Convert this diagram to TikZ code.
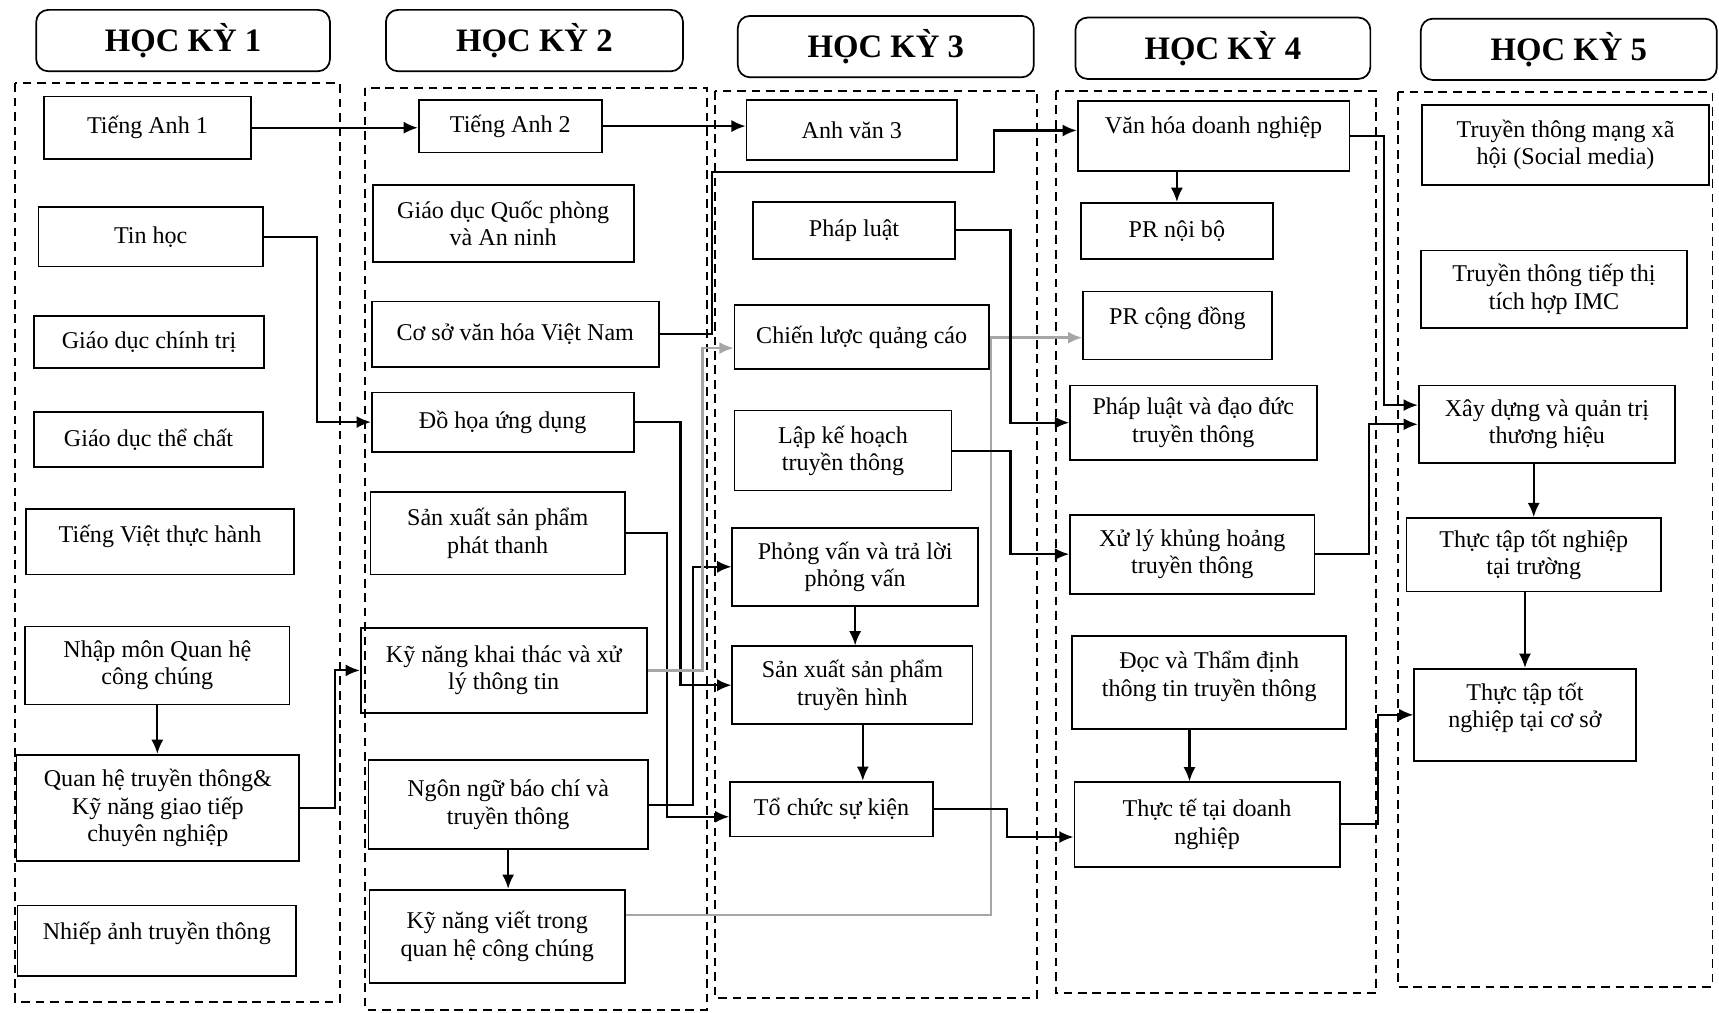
\documentclass[tikz,border=0pt]{standalone}
\usepackage{fontspec}
\setmainfont{Liberation Serif}
\usetikzlibrary{arrows.meta}

\begin{document}
\begin{tikzpicture}[
	x=0.02cm, y=-0.02cm,
	% --- Styles ---
	semblock/.style={
		rectangle, draw, rounded corners=0.22cm, line width=0.9pt,
		minimum width=5.4cm, minimum height=1.12cm, font=\fontsize{17}{20}\selectfont\bfseries
	},
	colframe/.style={
		draw, line width=0.9pt, dash pattern=on 4.5pt off 3pt
	},
	subjblock/.style={
		rectangle, draw, line width=0.9pt, align=center, inner sep=2pt,
		font=\fontsize{12.5}{14.2}\selectfont
	},
	sz/.style 2 args={minimum width=#1cm, minimum height=#2cm},
	raisetxt/.style={text depth=#1},
	line/.style={
		draw, line width=1.1pt, -{Latex[length=2.6mm,width=2.2mm]}
	},
	grayline/.style={
		draw, line width=1.3pt, color=gray!70, -{Latex[length=2.6mm,width=2.2mm]}
	}
	]

	\useasboundingbox (0,0) rectangle (1568,924);

	% --- 1. Semester headers ---
	\node[semblock, minimum width=5.36cm] (hk1) at (167,37) {HỌC KỲ 1};
	\node[semblock, minimum width=5.42cm] (hk2) at (487.5,37) {HỌC KỲ 2};
	\node[semblock] (hk3) at (808,42.5) {HỌC KỲ 3};
	\node[semblock, minimum width=5.38cm] (hk4) at (1115.5,44) {HỌC KỲ 4};
	\node[semblock] (hk5) at (1431,45) {HỌC KỲ 5};

	% --- 2. Dashed frames of the semesters ---
	\draw[colframe] (14,76) rectangle (310,914);
	\draw[colframe] (333,80) rectangle (645,921);
	\draw[colframe] (652,83) rectangle (946,910);
	\draw[colframe] (963,83) rectangle (1255,906);
	\draw[colframe] (1275,84) rectangle (1562,900);

	% --- 3. Semester 1 ---
	\node[subjblock, sz={3.78}{1.14}] (ta1) at (134.5,116.5) {Tiếng Anh 1};
	\node[subjblock, sz={4.1}{1.08}] (tinhoc) at (137.5,216) {Tin học};
	\node[subjblock, sz={4.2}{0.94}] (gdct) at (136,312) {Giáo dục chính trị};
	\node[subjblock, sz={4.18}{1.0}] (gdtc) at (135.5,401) {Giáo dục thể chất};
	\node[subjblock, sz={4.88}{1.2}, raisetxt=0.3cm] (tvth) at (146,494) {Tiếng Việt thực hành};
	\node[subjblock, sz={4.82}{1.42}] (nhapmon) at (143.5,607) {Nhập môn Quan hệ\\công chúng};
	\node[subjblock, sz={5.16}{1.94}] (qhtt) at (144,737) {Quan hệ truyền thông\&\\Kỹ năng giao tiếp\\chuyên nghiệp};
	\node[subjblock, sz={5.08}{1.28}, raisetxt=0.35cm] (nhiepanh) at (143,858) {Nhiếp ảnh truyền thông};

	% --- 4. Semester 2 ---
	\node[subjblock, sz={3.34}{0.96}] (ta2) at (465.5,115) {Tiếng Anh 2};
	\node[subjblock, sz={4.76}{1.4}] (gdqp) at (459,204) {Giáo dục Quốc phòng\\và An ninh};
	\node[subjblock, sz={5.24}{1.2}] (csvh) at (470,305) {Cơ sở văn hóa Việt Nam};
	\node[subjblock, sz={4.78}{1.08}] (dohoa) at (458.5,385) {Đồ họa ứng dụng};
	\node[subjblock, sz={4.64}{1.5}] (sxpt) at (454,486.5) {Sản xuất sản phẩm\\phát thanh};
	\node[subjblock, sz={5.22}{1.56}] (kntt) at (459.5,611.5) {Kỹ năng khai thác và xử\\lý thông tin};
	\node[subjblock, sz={5.1}{1.62}] (nnbc) at (463.5,734) {Ngôn ngữ báo chí và\\truyền thông};
	\node[subjblock, sz={4.66}{1.7}] (knv) at (453.5,854) {Kỹ năng viết trong\\quan hệ công chúng};

	% --- 5. Semester 3 ---
	\node[subjblock, sz={3.84}{1.1}] (av3) at (777,118.5) {Anh văn 3};
	\node[subjblock, sz={3.68}{1.04}] (phapluat) at (779,210) {Pháp luật};
	\node[subjblock, sz={4.64}{1.16}] (clqc) at (786,307.5) {Chiến lược quảng cáo};
	\node[subjblock, sz={3.96}{1.46}] (lkh) at (769,411) {Lập kế hoạch\\truyền thông};
	\node[subjblock, sz={4.48}{1.42}] (pv) at (780,517) {Phỏng vấn và trả lời\\phỏng vấn};
	\node[subjblock, sz={4.38}{1.42}] (sxth) at (777.5,625) {Sản xuất sản phẩm\\truyền hình};
	\node[subjblock, sz={3.7}{1.0}] (tcsk) at (758.5,738) {Tổ chức sự kiện};

	% --- 6. Semester 4 ---
	\node[subjblock, sz={4.96}{1.28}, raisetxt=0.4cm] (vhdn) at (1107,124) {Văn hóa doanh nghiệp};
	\node[subjblock, sz={3.5}{1.02}] (prnb) at (1073.5,210.5) {PR nội bộ};
	\node[subjblock, sz={3.44}{1.24}, raisetxt=0.37cm] (prcd) at (1074,297) {PR cộng đồng};
	\node[subjblock, sz={4.5}{1.36}] (plddd) at (1088.5,385.5) {Pháp luật và đạo đức\\truyền thông};
	\node[subjblock, sz={4.46}{1.44}] (xlkh) at (1087.5,505.5) {Xử lý khủng hoảng\\truyền thông};
	\node[subjblock, sz={5.0}{1.7}, raisetxt=0.32cm] (doc) at (1103,622.5) {Đọc và Thẩm định\\thông tin truyền thông};
	\node[subjblock, sz={4.84}{1.54}] (thucte) at (1101,752) {Thực tế tại doanh\\nghiệp};

	% --- 7. Semester 5 ---
	\node[subjblock, sz={5.24}{1.46}] (mxh) at (1428,132) {Truyền thông mạng xã\\hội (Social media)};
	\node[subjblock, sz={4.86}{1.42}] (imc) at (1417.5,264) {Truyền thông tiếp thị\\tích hợp IMC};
	\node[subjblock, sz={4.68}{1.42}] (xdqt) at (1411,387) {Xây dựng và quản trị\\thương hiệu};
	\node[subjblock, sz={4.64}{1.34}] (tttr) at (1399,506) {Thực tập tốt nghiệp\\tại trường};
	\node[subjblock, sz={4.04}{1.68}, raisetxt=0.34cm] (ttcs) at (1391,652) {Thực tập tốt\\nghiệp tại cơ sở};

	% --- 8. Connections ---
	% English chain
	\draw[line] (ta1.east) -- (ta1.east -| ta2.west);
	\draw[line] (ta2.east) -- (ta2.east -| av3.west);

	% Semester 1 to semester 2
	\draw[line] (tinhoc.east) -- ++(48,0) |- (dohoa.west);
	\draw[line] (nhapmon.south) -- (nhapmon.south |- qhtt.north);
	\draw[line] (qhtt.east) -- ++(32,0) |- (kntt.west);

	% Semester 2 to semester 3 and 4
	\coordinate (bendvh) at (907,157);
	\draw[line] (csvh.east) -- ++(48,0) |- (bendvh) |- ([yshift=0.1cm]vhdn.west);
	\draw[line] (dohoa.east) -- ++(42,0) |- (sxth.west);
	\draw[line] (sxpt.east) -- ++(38,0) |- ([yshift=-0.14cm]tcsk.west);
	\draw[line] (nnbc.east) -- ++(40,0) |- (pv.west);
	\draw[line] (nnbc.south) -- (nnbc.south |- knv.north);
	\draw[grayline] (kntt.east) -- ++(50,0) |- ([yshift=-0.2cm]clqc.west);
	\draw[grayline] ([yshift=0.39cm]knv.east) -- ++(333,0) |- ([yshift=-0.22cm]prcd.west);

	% Semester 3 to semester 4
	\draw[line] (phapluat.east) -- ++(50,0) |- (plddd.west);
	\draw[line] (lkh.east) -- ++(53,0) |- (xlkh.west);
	\draw[line] (pv.south) -- (pv.south |- sxth.north);
	\draw[line] ([xshift=0.19cm]sxth.south) -- ([xshift=0.19cm]sxth.south |- tcsk.north);
	\draw[line] (tcsk.east) -- ++(67,0) |- ([yshift=-0.23cm]thucte.west);

	% Semester 4 to semester 5
	\draw[line] (prnb.north |- vhdn.south) -- (prnb.north);
	\draw[line] ([xshift=-0.36cm]doc.south) -- ([xshift=-0.36cm]doc.south |- thucte.north);
	\draw[line] (vhdn.east) -- ++(31,0) |- ([yshift=0.35cm]xdqt.west);
	\draw[line] (xlkh.east) -- ++(49,0) |- (xdqt.west);
	\draw[line] (thucte.east) -- ++(34,0) |- (ttcs.west);
	\draw[line] (tttr.north |- xdqt.south) -- (tttr.north);
	\draw[line] (ttcs.north |- tttr.south) -- (ttcs.north);

\end{tikzpicture}
\end{document}
